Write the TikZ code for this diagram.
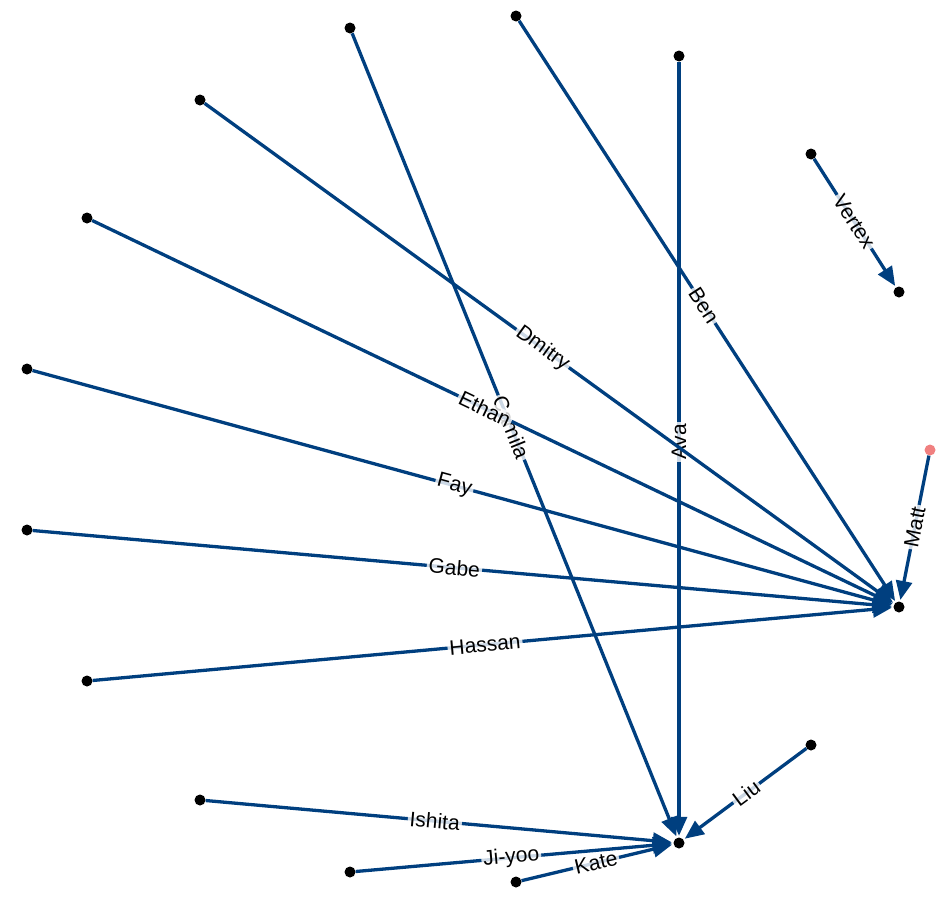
\documentclass[tikz,border=0pt]{standalone}
\usepackage{fontspec}
\setmainfont{Liberation Sans}
\usetikzlibrary{arrows.meta}
\definecolor{edgeblue}{RGB}{0,63,127}
\definecolor{startpink}{RGB}{240,128,128}
\tikzset{
	>={Triangle[length=19pt,width=16pt]},
	dot/.style={circle, fill=black, inner sep=0pt, minimum size=11pt},
	startdot/.style={dot, fill=startpink},
	link/.style={->, draw=edgeblue, line width=3.3pt, shorten >=1.5pt},
	tag/.style={pos=0.49, fill=white, fill opacity=0.8, text opacity=1, inner xsep=2pt, inner ysep=0pt,
		font=\fontsize{21}{23}\selectfont},
	lbl/.style={tag, sloped},
}
\begin{document}
\begin{tikzpicture}[x=1pt,y=-1pt]
      \useasboundingbox (0,0) rectangle (950,900);

      % targets
      \node[dot] (hubA) at (899,607) {};
      \node[dot] (hubB) at (679,843) {};
      \node[dot] (vtxEnd) at (899,292) {};

      % sources
      \node[dot] (ava) at (679,56) {};
      \node[dot] (ben) at (516,16) {};
      \node[dot] (camila) at (350,28) {};
      \node[dot] (dmitry) at (200,100) {};
      \node[dot] (ethan) at (87,218) {};
      \node[dot] (fay) at (27,369) {};
      \node[dot] (gabe) at (27,530) {};
      \node[dot] (hassan) at (87,681) {};
      \node[dot] (ishita) at (200,800) {};
      \node[dot] (jiyoo) at (350,872) {};
      \node[dot] (kate) at (516,882) {};
      \node[dot] (liu) at (811,745) {};
      \node[startdot] (matt) at (930,450) {};
      \node[dot] (vertex) at (811,154) {};

      \draw[link] (ava) -- node[tag, rotate=90]{Ava} (hubB);
      \draw[link] (ben) -- node[lbl]{Ben} (hubA);
      \draw[link] (camila) -- node[lbl]{Camila} (hubB);
      \draw[link] (dmitry) -- node[lbl]{Dmitry} (hubA);
      \draw[link] (ethan) -- node[lbl]{Ethan} (hubA);
      \draw[link] (fay) -- node[lbl]{Fay} (hubA);
      \draw[link] (gabe) -- node[lbl]{Gabe} (hubA);
      \draw[link] (hassan) -- node[lbl]{Hassan} (hubA);
      \draw[link] (ishita) -- node[lbl]{Ishita} (hubB);
      \draw[link] (jiyoo) -- node[lbl]{Ji-yoo} (hubB);
      \draw[link] (kate) -- node[lbl]{Kate} (hubB);
      \draw[link] (liu) -- node[lbl]{Liu} (hubB);
      \draw[link] (matt) -- node[lbl]{Matt} (hubA);
      \draw[link] (vertex) -- node[lbl]{Vertex} (vtxEnd);
\end{tikzpicture}
\end{document}
